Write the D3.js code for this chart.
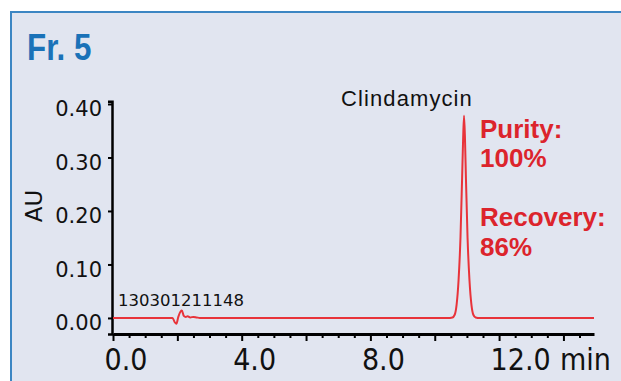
<!DOCTYPE html>
<html><head><meta charset="utf-8">
<script src="https://cdn.jsdelivr.net/npm/d3@7"></script>
<style>html,body{margin:0;padding:0;background:#fff;}svg{display:block;}</style>
</head><body>
<svg id="c" width="621" height="381"></svg>
<script>
// ---- data ----
const times = [0.0, 1.70, 1.85, 1.92, 1.97, 2.03, 2.10, 2.14, 2.20, 2.26, 2.32, 2.40, 2.50, 2.60, 2.70,
  10.40, 10.55, 10.62, 10.68, 10.74, 10.80, 10.85, 10.88, 10.91, 10.94, 10.97, 11.02, 11.08, 11.14, 11.20, 11.27, 11.40, 14.95];
const absorbance = [0.0, 0.0, 0.0, -0.008, -0.011, 0.002, 0.012, 0.014, 0.004, 0.002, 0.003, 0.001, 0.002, 0.001, 0.0,
  0.0, 0.001, 0.006, 0.025, 0.07, 0.15, 0.26, 0.33, 0.378, 0.335, 0.26, 0.15, 0.07, 0.025, 0.006, 0.001, 0.0, 0.0];
const yTicks = [0.0, 0.1, 0.2, 0.3, 0.4];
const xMajorTicks = [0, 2, 4, 6, 8, 10, 12, 14];
const xMinorTicks = [0.5, 1, 1.5, 2.5, 3, 3.5, 4.5, 5, 5.5, 6.5, 7, 7.5, 8.5, 9, 9.5, 10.5, 11, 11.5, 12.5, 13, 13.5, 14.5];
const xLabelTicks = [0, 4, 8, 12];
const title = "Fr. 5";
const peakName = "Clindamycin";
const runId = "130301211148";
const notes = [["Purity:", "100%"], ["Recovery:", "86%"]];

const svg = d3.select("#c");
// panel
svg.append("rect").attr("x", 11).attr("y", 12).attr("width", 700).attr("height", 400)
  .attr("fill", "#e1e5f0").attr("stroke", "#3c86c3").attr("stroke-width", 2);

svg.append("text").attr("transform", "translate(27,60) scale(0.87,1)").text(title)
  .attr("font-family", "Liberation Sans, Arial, sans-serif").attr("font-weight", "bold")
  .attr("font-size", 36).attr("fill", "#1a72b8");

const x = d3.scaleLinear().domain([0, 14.95]).range([113, 594]);
const y = d3.scaleLinear().domain([-0.03, 0.405]).range([334, 101.3]);

// y axis
const yAx = svg.append("g").attr("transform", "translate(112,0)")
  .call(d3.axisLeft(y).tickValues(yTicks).tickSize(4).tickFormat(d3.format(".2f")));
yAx.select(".domain").attr("stroke", "#000").attr("stroke-width", 2.5);
yAx.selectAll(".tick line").attr("stroke", "#000").attr("stroke-width", 2);
yAx.selectAll(".tick text").attr("font-family", "DejaVu Sans, sans-serif").attr("font-size", 21)
  .attr("fill", "#111").attr("x", -10).attr("dy", "0.55em");

// x axis
const xAxMinor = svg.append("g").attr("transform", "translate(0,334)")
  .call(d3.axisBottom(x).tickValues(xMinorTicks).tickSize(4).tickFormat(""));
xAxMinor.select(".domain").remove();
xAxMinor.selectAll(".tick line").attr("stroke", "#000").attr("stroke-width", 2);
const xAx = svg.append("g").attr("transform", "translate(0,334)")
  .call(d3.axisBottom(x).tickValues(xMajorTicks).tickSize(7).tickSizeOuter(0)
    .tickFormat(d => xLabelTicks.includes(d) ? d3.format(".1f")(d) : ""));
xAx.select(".domain").attr("stroke", "#000").attr("stroke-width", 3);
xAx.selectAll(".tick line").attr("stroke", "#000").attr("stroke-width", 2);
xAx.selectAll(".tick text").attr("font-family", "DejaVu Sans Condensed, DejaVu Sans, sans-serif")
  .attr("font-stretch", "condensed").attr("font-size", 30).attr("fill", "#111")
  .attr("text-anchor", "start").attr("x", -9).attr("y", 0).attr("dy", 36);
svg.append("text").attr("x", 560).attr("y", 370).text("min")
  .attr("font-family", "DejaVu Sans Condensed, DejaVu Sans, sans-serif").attr("font-stretch", "condensed")
  .attr("font-size", 30).attr("fill", "#111");

// y label
svg.append("text").attr("transform", "translate(42,206) rotate(-90)").attr("text-anchor", "middle")
  .text("AU").attr("font-family", "DejaVu Sans, sans-serif").attr("font-size", 23).attr("fill", "#111");

// trace
const line = d3.line().x((d, i) => x(times[i])).y(d => y(d)).curve(d3.curveMonotoneX);
svg.append("path").datum(absorbance).attr("d", line).attr("fill", "none")
  .attr("stroke", "#e8333a").attr("stroke-width", 2);

// annotations
svg.append("text").attr("x", 118).attr("y", 306).text(runId)
  .attr("font-family", "DejaVu Sans, sans-serif").attr("font-size", 16.5).attr("fill", "#111");
svg.append("text").attr("x", 341).attr("y", 106).text(peakName)
  .attr("font-family", "Liberation Sans, Arial, sans-serif").attr("font-size", 22)
  .attr("letter-spacing", 1.1).attr("fill", "#111");
const noteY = [[137.5, 166.5], [226, 255.5]];
notes.forEach((n, i) => {
  n.forEach((t, j) => {
    svg.append("text").attr("x", 480).attr("y", noteY[i][j]).text(t)
      .attr("font-family", "Liberation Sans, Arial, sans-serif").attr("font-weight", "bold")
      .attr("font-size", 26).attr("fill", "#dc242c");
  });
});
</script>
</body></html>
